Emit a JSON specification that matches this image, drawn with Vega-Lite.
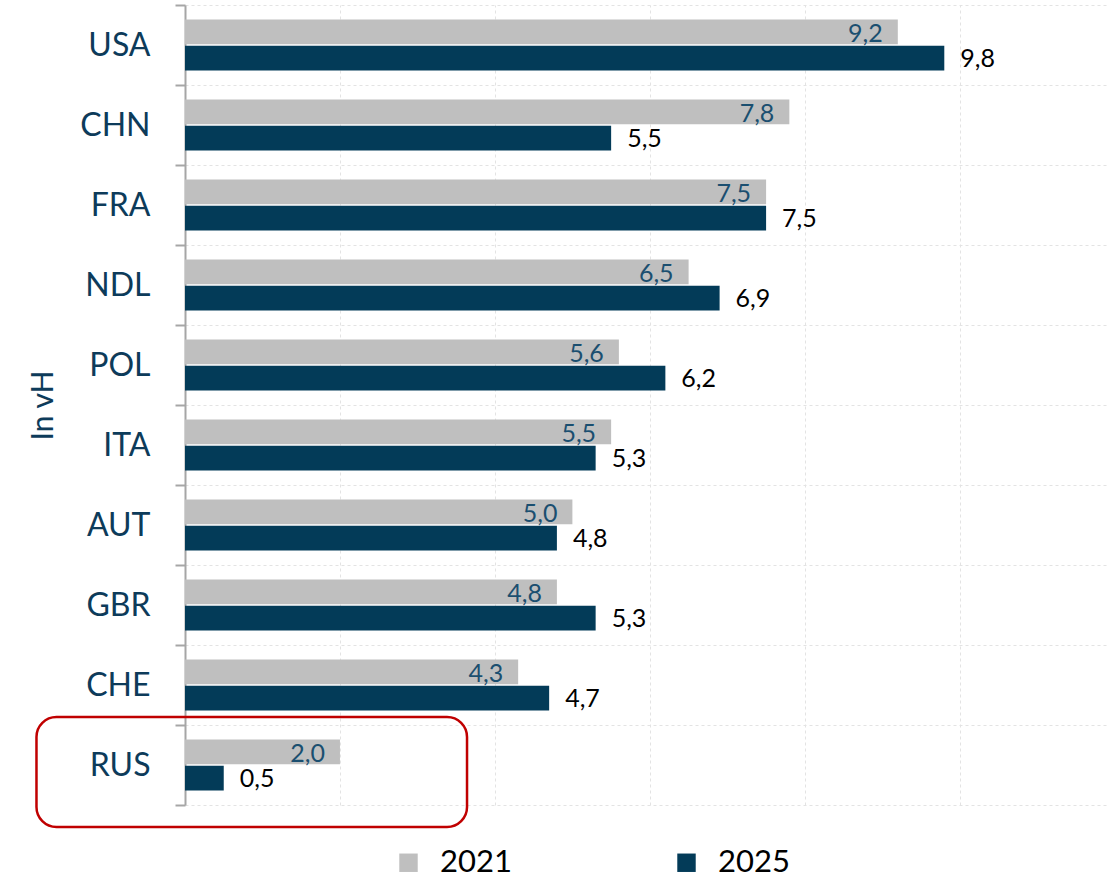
{
  "$schema": "https://vega.github.io/schema/vega-lite/v6.json",
  "autosize": {"type": "none"},
  "width": 922,
  "height": 800,
  "padding": {"left": 185, "top": 5, "right": 0, "bottom": 75},
  "config": {
    "view": {"stroke": null},
    "font": "Lato",
    "locale": {"number": {"decimal": ",", "thousands": ".", "grouping": [3], "currency": ["", " €"]}}
  },
  "datasets": {
    "bars": [
      {"land": "USA", "year": "2021", "value": 9.2},
      {"land": "USA", "year": "2025", "value": 9.8},
      {"land": "CHN", "year": "2021", "value": 7.8},
      {"land": "CHN", "year": "2025", "value": 5.5},
      {"land": "FRA", "year": "2021", "value": 7.5},
      {"land": "FRA", "year": "2025", "value": 7.5},
      {"land": "NDL", "year": "2021", "value": 6.5},
      {"land": "NDL", "year": "2025", "value": 6.9},
      {"land": "POL", "year": "2021", "value": 5.6},
      {"land": "POL", "year": "2025", "value": 6.2},
      {"land": "ITA", "year": "2021", "value": 5.5},
      {"land": "ITA", "year": "2025", "value": 5.3},
      {"land": "AUT", "year": "2021", "value": 5.0},
      {"land": "AUT", "year": "2025", "value": 4.8},
      {"land": "GBR", "year": "2021", "value": 4.8},
      {"land": "GBR", "year": "2025", "value": 5.3},
      {"land": "CHE", "year": "2021", "value": 4.3},
      {"land": "CHE", "year": "2025", "value": 4.7},
      {"land": "RUS", "year": "2021", "value": 2.0},
      {"land": "RUS", "year": "2025", "value": 0.5}
    ],
    "box": [{"x1": -1.917, "x2": 3.64, "y1": 1.1, "y2": -0.275}]
  },
  "layer": [
    {
      "data": {"name": "bars"},
      "encoding": {
        "y": {
          "field": "land", "type": "nominal", "sort": null,
          "scale": {"paddingInner": 0, "paddingOuter": 0},
          "axis": {
            "title": "In vH", "titleFontSize": 30, "titleFontWeight": "normal", "titleColor": "#0d3b5a", "titlePadding": 21, "titleFont": "Lato",
            "labelFontSize": 32, "labelColor": "#0d3b5a", "labelPadding": 25, "labelFont": "Lato",
            "tickBand": "extent", "tickSize": 10, "tickColor": "#a6a6a6", "tickWidth": 2,
            "domainColor": "#a6a6a6", "domainWidth": 2,
            "grid": true, "gridColor": "#e3e3e3", "gridDash": [3, 3], "gridWidth": 1
          }
        },
        "yOffset": {"field": "year", "type": "nominal", "scale": {"paddingInner": 0.05, "paddingOuter": 0.56}},
        "x": {
          "field": "value", "type": "quantitative",
          "scale": {"domain": [0, 11.9], "nice": false, "zero": false},
          "axis": {"title": null, "labels": false, "ticks": false, "domain": false, "grid": true, "gridColor": "#e3e3e3", "gridDash": [3, 3], "values": [0, 2, 4, 6, 8, 10]}
        }
      },
      "layer": [
        {
          "mark": {"type": "bar"},
          "encoding": {
            "color": {
              "field": "year", "type": "nominal",
              "scale": {"domain": ["2021", "2025"], "range": ["#bfbfbf", "#033b58"]},
              "legend": {
                "orient": "none", "legendX": 208, "legendY": 842, "direction": "horizontal", "title": null,
                "symbolType": "square", "symbolSize": 340, "symbolStrokeWidth": 0,
                "labelFontSize": 31, "labelColor": "#000000", "labelFont": "Lato", "labelOffset": 16, "columnPadding": 159
              }
            }
          }
        },
        {
          "transform": [{"filter": "datum.year == '2021'"}],
          "mark": {"type": "text", "align": "right", "baseline": "middle", "dx": -15, "dy": 2, "fontSize": 25, "color": "#1b4f70"},
          "encoding": {"text": {"field": "value", "type": "quantitative", "format": ".1f"}}
        },
        {
          "transform": [{"filter": "datum.year == '2025'"}],
          "mark": {"type": "text", "align": "left", "baseline": "middle", "dx": 16, "dy": 1, "fontSize": 25, "color": "#000000"},
          "encoding": {"text": {"field": "value", "type": "quantitative", "format": ".1f"}}
        }
      ]
    },
    {
      "data": {"name": "box"},
      "mark": {"type": "rect", "fill": null, "stroke": "#c00000", "strokeWidth": 2.5, "cornerRadius": 20, "clip": false},
      "encoding": {
        "x": {"field": "x1", "type": "quantitative", "scale": {"domain": [0, 11.9], "nice": false, "zero": false}},
        "x2": {"field": "x2"},
        "y": {"field": "y1", "type": "quantitative", "scale": {"domain": [0, 10], "nice": false}, "axis": null},
        "y2": {"field": "y2"}
      }
    }
  ],
  "resolve": {"scale": {"y": "independent"}}
}
